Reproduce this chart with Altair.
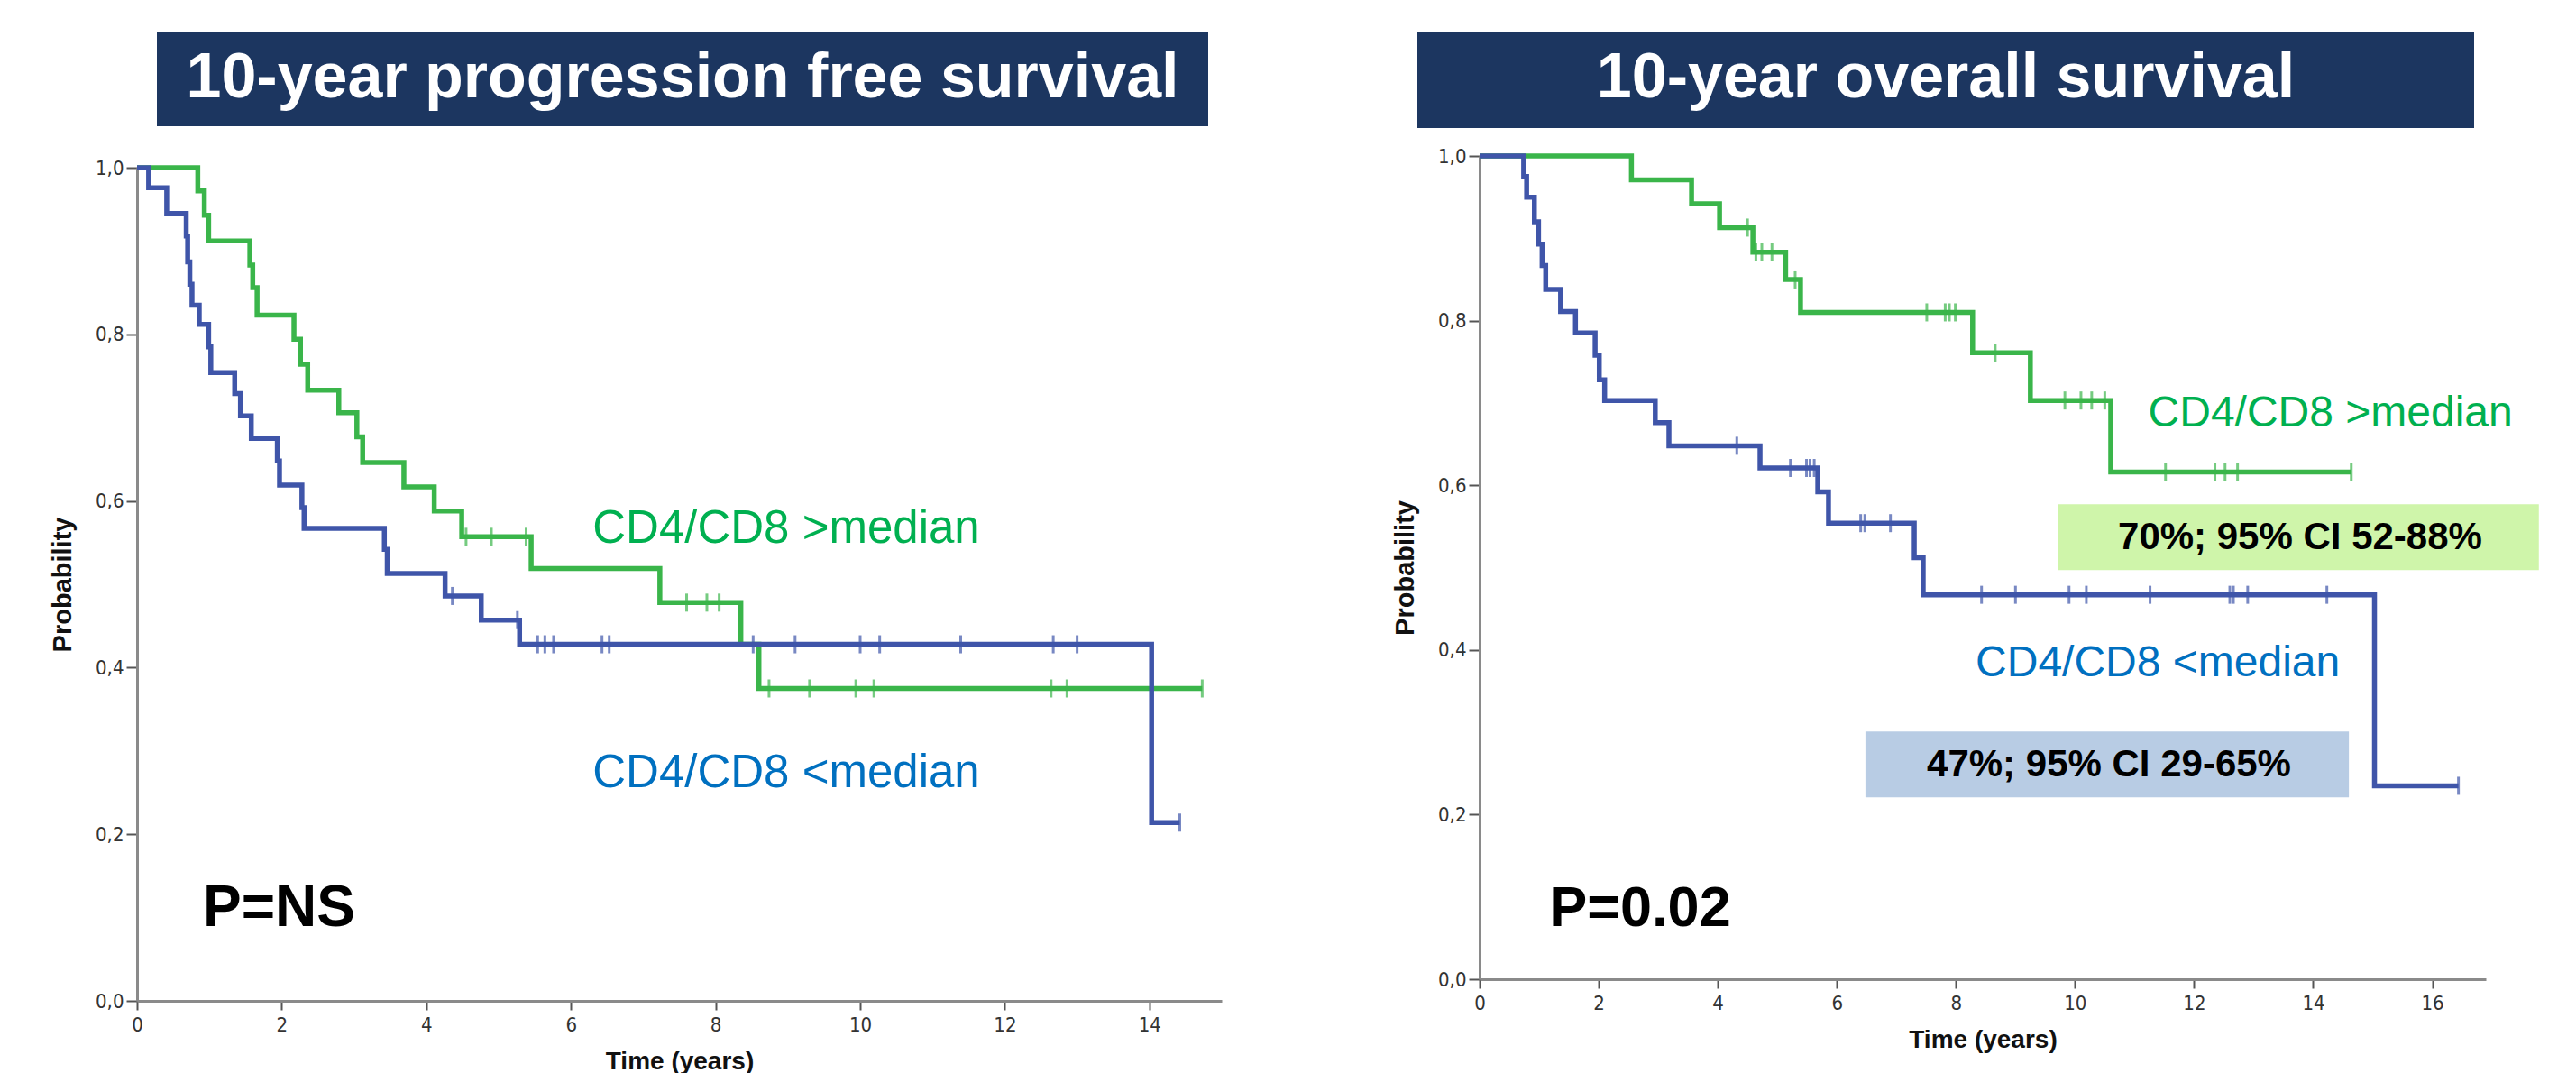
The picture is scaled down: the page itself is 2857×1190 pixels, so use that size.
import altair as alt
import pandas as pd

# ---------------- data ----------------
# 10-year progression free survival
pfs_hi_t = [0, 0.84, 0.93, 0.99, 1.56, 1.60, 1.66, 2.17, 2.26, 2.36, 2.79, 3.04, 3.12, 3.69, 4.11, 4.49, 5.45, 7.23, 8.35, 8.60, 14.73]
pfs_hi_s = [1.0, 0.972, 0.943, 0.912, 0.883, 0.856, 0.823, 0.794, 0.764, 0.733, 0.706, 0.677, 0.646, 0.617, 0.588, 0.557, 0.519, 0.478, 0.428, 0.375, 0.375]
pfs_hi_cens = [4.55, 4.90, 5.38, 7.60, 7.88, 8.05, 8.74, 9.30, 9.94, 10.19, 12.64, 12.86, 14.73]

pfs_lo_t = [0, 0.16, 0.41, 0.68, 0.70, 0.73, 0.76, 0.86, 0.99, 1.02, 1.35, 1.43, 1.58, 1.94, 1.97, 2.28, 2.31, 3.42, 3.46, 4.26, 4.76, 5.29, 14.03, 14.42]
pfs_lo_s = [1.0, 0.976, 0.945, 0.918, 0.887, 0.860, 0.835, 0.812, 0.785, 0.754, 0.729, 0.702, 0.675, 0.648, 0.619, 0.592, 0.567, 0.542, 0.513, 0.486, 0.457, 0.428, 0.214, 0.214]
pfs_lo_cens = [4.36, 5.26, 5.54, 5.64, 5.76, 6.43, 6.53, 8.52, 9.10, 10.00, 10.27, 11.39, 12.67, 13.00, 14.42]

# 10-year overall survival
os_hi_t = [0, 2.55, 3.56, 4.03, 4.59, 5.14, 5.39, 8.28, 9.25, 10.60, 14.64]
os_hi_s = [1.0, 0.971, 0.942, 0.913, 0.883, 0.850, 0.810, 0.761, 0.703, 0.616, 0.616]
os_hi_cens = [4.50, 4.64, 4.74, 4.91, 5.30, 7.51, 7.82, 7.89, 7.99, 8.66, 9.83, 10.10, 10.28, 10.50, 11.52, 12.35, 12.52, 12.73, 14.64]

os_lo_t = [0, 0.74, 0.79, 0.92, 0.99, 1.05, 1.11, 1.36, 1.61, 1.94, 2.01, 2.10, 2.95, 3.18, 4.71, 5.68, 5.86, 7.30, 7.45, 15.03, 16.44]
os_lo_s = [1.0, 0.975, 0.950, 0.920, 0.893, 0.867, 0.838, 0.811, 0.785, 0.758, 0.728, 0.703, 0.676, 0.648, 0.621, 0.592, 0.554, 0.512, 0.467, 0.235, 0.235]
os_lo_cens = [4.32, 5.22, 5.49, 5.55, 5.62, 6.40, 6.47, 6.90, 8.43, 9.00, 9.90, 10.19, 11.26, 12.60, 12.66, 12.90, 14.23, 16.44]

x_ticks_pfs = [0, 2, 4, 6, 8, 10, 12, 14]
x_ticks_os = [0, 2, 4, 6, 8, 10, 12, 14, 16]
y_ticks = [0.0, 0.2, 0.4, 0.6, 0.8, 1.0]

# ---------------- styles ----------------
GREEN_LINE = "#3ab54a"
BLUE_LINE = "#3f55a9"
GREEN_TXT = "#00b050"
BLUE_TXT = "#0070c0"
NAVY = "#1c3660"
FONT = "Liberation Sans, Arial, sans-serif"
NARROW = "Liberation Sans Narrow, DejaVu Sans Condensed, Liberation Sans, sans-serif"


def step_value(ts, ss, c):
    v = ss[0]
    for t, s in zip(ts, ss):
        if t <= c:
            v = s
    return v


def curves(hi_t, hi_s, lo_t, lo_s):
    rows = [{"t": t, "s": s, "g": "hi"} for t, s in zip(hi_t, hi_s)]
    rows += [{"t": t, "s": s, "g": "lo"} for t, s in zip(lo_t, lo_s)]
    return pd.DataFrame(rows)


def censors(hi_t, hi_s, hi_c, lo_t, lo_s, lo_c):
    rows = [{"t": c, "s": step_value(hi_t, hi_s, c), "g": "hi"} for c in hi_c]
    rows += [{"t": c, "s": step_value(lo_t, lo_s, c), "g": "lo"} for c in lo_c]
    return pd.DataFrame(rows)


def panel(title, cdf, sdf, xmax, xticks, w, h, yrange, banner, reg_txt, bold_left, bold_center, boxes):
    xs = alt.Scale(domain=[0, xmax], nice=False, zero=False)
    ykw = dict(domain=[0, 1], nice=False, zero=False)
    if yrange is not None:
        ykw["range"] = yrange
    ys = alt.Scale(**ykw)
    cs = alt.Scale(domain=["hi", "lo"], range=[GREEN_LINE, BLUE_LINE])

    xaxis = alt.Axis(values=xticks, format="d", grid=False, labelFlush=False,
                     labelFont=NARROW, labelFontSize=22, labelColor="#333333", labelPadding=6,
                     tickSize=10, tickWidth=2, tickColor="#555555",
                     domainColor="#8a8a8a", domainWidth=3,
                     title="Time (years)", titleFont=FONT, titleFontSize=28,
                     titleFontWeight="bold", titleColor="#111111", titlePadding=16)
    yaxis = alt.Axis(values=y_ticks, grid=False, labelFlush=False,
                     labelExpr="replace(format(datum.value, '.1f'), '.', ',')",
                     labelFont=NARROW, labelFontSize=22, labelColor="#333333", labelPadding=3,
                     tickSize=12, tickWidth=2, tickColor="#555555",
                     domainColor="#8a8a8a", domainWidth=3,
                     title="Probability", titleFont=FONT, titleFontSize=29,
                     titleFontWeight="bold", titleColor="#111111", titlePadding=21)

    def X(field):
        return alt.X(field, scale=xs, axis=xaxis)

    def Y(field):
        return alt.Y(field, scale=ys, axis=yaxis)

    one = pd.DataFrame({"a": [0]})
    bx0, bx1, by0, by1, tcx, tcy = banner
    ban = alt.Chart(one).mark_rect(color=NAVY).encode(
        x=alt.value(bx0), x2=alt.value(bx1), y=alt.value(by0), y2=alt.value(by1))
    ban_t = alt.Chart(one).mark_text(text=title, font=FONT, fontSize=70, fontWeight="bold",
                                     color="white", align="center", baseline="middle").encode(
        x=alt.value(tcx), y=alt.value(tcy))

    line = alt.Chart(cdf).mark_line(interpolate="step-after", strokeWidth=5.5).encode(
        x=X("t:Q"), y=Y("s:Q"),
        color=alt.Color("g:N", scale=cs, legend=None))

    cens = alt.Chart(sdf).mark_tick(orient="vertical", size=20, thickness=3).encode(
        x=X("t:Q"), y=Y("s:Q"),
        color=alt.Color("g:N", scale=cs, legend=None))

    def txt(rows, weight, align):
        df = pd.DataFrame(rows, columns=["x", "y", "label", "c", "fs"])
        return alt.Chart(df).mark_text(font=FONT, fontWeight=weight, align=align, baseline="middle").encode(
            x=X("x:Q"), y=Y("y:Q"),
            text="label:N",
            color=alt.Color("c:N", scale=None),
            size=alt.Size("fs:Q", scale=None, legend=None))

    layers = [line, cens, ban, ban_t]
    if boxes:
        box = alt.Chart(pd.DataFrame(boxes, columns=["x0", "x1", "y0", "y1", "fill"])).mark_rect().encode(
            x=X("x0:Q"), x2="x1:Q", y=Y("y0:Q"), y2="y1:Q",
            color=alt.Color("fill:N", scale=None))
        layers.append(box)
    layers += [txt(reg_txt, "normal", "left"), txt(bold_left, "bold", "left")]
    if bold_center:
        layers.append(txt(bold_center, "bold", "center"))
    return alt.layer(*layers).properties(width=w, height=h)


left = panel(
    "10-year progression free survival",
    curves(pfs_hi_t, pfs_hi_s, pfs_lo_t, pfs_lo_s),
    censors(pfs_hi_t, pfs_hi_s, pfs_hi_cens, pfs_lo_t, pfs_lo_s, pfs_lo_cens),
    15, x_ticks_pfs, 1203, 937, [937, 13],
    (22, 1188, -137, -33, 605, -86),
    [(6.3, 0.566, "CD4/CD8 >median", GREEN_TXT, 51),
     (6.3, 0.273, "CD4/CD8 <median", BLUE_TXT, 51)],
    [(0.91, 0.11, "P=NS", "#000000", 64)],
    [],
    [],
)

right = panel(
    "10-year overall survival",
    curves(os_hi_t, os_hi_s, os_lo_t, os_lo_s),
    censors(os_hi_t, os_hi_s, os_hi_cens, os_lo_t, os_lo_s, os_lo_cens),
    16.9, x_ticks_os, 1116, 913, None,
    (-69, 1103, -137, -31, 517, -86),
    [(11.23, 0.687, "CD4/CD8 >median", GREEN_TXT, 48),
     (8.33, 0.383, "CD4/CD8 <median", BLUE_TXT, 48)],
    [(1.17, 0.085, "P=0.02", "#000000", 63)],
    [(13.78, 0.537, "70%; 95% CI 52-88%", "#000000", 42),
     (10.57, 0.261, "47%; 95% CI 29-65%", "#000000", 42)],
    [(9.72, 17.79, 0.577, 0.497, "#cff5aa"),
     (6.48, 14.60, 0.301, 0.221, "#b8cce4")],
)

chart = alt.hconcat(left, right, spacing=286, bounds="flush").properties(
    padding={"left": 47, "top": 28, "right": 0, "bottom": 0}
).configure_view(strokeWidth=0)

chart.save("out.html", embed_options={"renderer": "svg", "actions": False})
